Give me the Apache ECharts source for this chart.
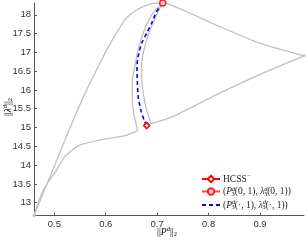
<!DOCTYPE html>
<html><head><meta charset="utf-8">
<script src="https://cdn.jsdelivr.net/npm/echarts@6/dist/echarts.min.js"></script>
<style>html,body{margin:0;padding:0;background:#fff}#c{width:306px;height:240px}</style>
</head><body><div id="c"></div>
<script>
// ---- data ----
const xTicks = [0.5, 0.6, 0.7, 0.8, 0.9];
const yTicks = [13, 13.5, 14, 14.5, 15, 15.5, 16, 16.5, 17, 17.5, 18];
const xRange = [0.4605, 0.9856];
const yRange = [12.656, 18.314];

const curveOuter = [[0.4605,12.656],[0.5369,15.203],[0.563,16.002],[0.5824,16.535],[0.6019,17.068],[0.6245,17.60],[0.6375,17.867],[0.6472,18.0],[0.6608,18.133],[0.6764,18.24],[0.6919,18.306],[0.7108,18.314]];
const curveTopRight = [[0.7108,18.314],[0.7211,18.293],[0.7567,18.088],[0.8216,17.688],[0.8994,17.246],[0.9856,16.908]];
const curveLowerRight = [[0.9856,16.908],[0.9058,16.447],[0.8216,15.914],[0.7347,15.318],[0.688,15.095]];
const curveInnerRight = [[0.688,15.095],[0.6861,15.184],[0.6797,15.451],[0.6731,15.896],[0.6701,16.268],[0.6696,16.641],[0.6744,17.068],[0.6841,17.52],[0.7007,18.053],[0.7108,18.314]];
const curveInnerLeft = [[0.7108,18.314],[0.6894,18.0],[0.6731,17.521],[0.6628,17.068],[0.6569,16.641],[0.6517,16.25],[0.6517,15.808],[0.6536,15.451],[0.6583,15.142],[0.6622,14.918]];
const curveLowerLeft = [[0.6622,14.918],[0.6375,14.785],[0.5889,14.67],[0.55,14.537],[0.5272,14.316],[0.5175,14.182],[0.5047,13.871],[0.4786,13.338],[0.4605,12.656]];
const endPoints = [[0.4605,12.656],[0.9856,16.908]];
const pDot = [[0.6797,15.051],[0.675,15.184],[0.6686,15.451],[0.6633,15.808],[0.6614,16.25],[0.6608,16.623],[0.6637,16.934],[0.67,17.246],[0.6797,17.513],[0.6894,17.779],[0.6991,18.088],[0.7108,18.314]];
const hcss = [[0.6797,15.051]];
const p01 = [[0.7108,18.314]];

const gray = '#c0c0c0';
const serif = '"Liberation Serif","DejaVu Serif",serif';
function grayCurve(d){
  return {type:'line', data:d, showSymbol:false, smooth:0.25, silent:true,
    lineStyle:{color:gray, width:1.3}, itemStyle:{color:gray}, z:1};
}
const rich = {
  r:{fontFamily:serif, fontSize:9.5, color:'#222', lineHeight:12},
  i:{fontFamily:serif, fontStyle:'italic', fontSize:9.5, color:'#222', lineHeight:12},
  sup:{fontFamily:serif, fontStyle:'italic', fontSize:6.5, color:'#222', verticalAlign:'top', lineHeight:8},
  sub:{fontFamily:serif, fontSize:6.5, color:'#222', verticalAlign:'bottom', lineHeight:8},
  subs:{fontFamily:serif, fontSize:6.5, color:'#222', verticalAlign:'bottom', lineHeight:8, padding:[0,0,0,-3.6]}
};
const legendText = {
  'HCSS': '{r|HCSS}{sup|−}',
  'p01': '{r|(}{i|P}{sup|d}{subs|3}{r|(0, 1), }{i|λ}{sup|d}{subs|3}{r|(0, 1))}',
  'pdot': '{r|(}{i|P}{sup|d}{subs|3}{r|(·, 1), }{i|λ}{sup|d}{subs|3}{r|(·, 1))}'
};
const xName = '{r|||}{i|P}{sup|d}{r|||}{sub|2}';
const yName = '{r|||}{i|λ}{sup|d}{r|||}{sub|2}';

const chart = echarts.init(document.getElementById('c'), null, {renderer:'canvas'});
chart.setOption({
  animation:false,
  grid:{left:34, right:2, top:3, bottom:24.4, outerBoundsMode:'none', containLabel:false},
  xAxis:{type:'value', min:xRange[0], max:xRange[1],
    axisLine:{lineStyle:{color:'#555', width:1}},
    axisTick:{inside:true, length:3, customValues:xTicks, lineStyle:{color:'#555'}},
    axisLabel:{customValues:xTicks, fontSize:9.5, color:'#333', margin:4, fontFamily:'"Liberation Sans",Arial,sans-serif'},
    splitLine:{show:false}},
  yAxis:{type:'value', min:yRange[0], max:yRange[1],
    axisLine:{show:true, lineStyle:{color:'#555', width:1}},
    axisTick:{show:true, inside:true, length:3, customValues:yTicks, lineStyle:{color:'#555'}},
    axisLabel:{customValues:yTicks, fontSize:9.5, color:'#333', margin:3, fontFamily:'"Liberation Sans",Arial,sans-serif'},
    splitLine:{show:false}},
  graphic:[
    {type:'text', x:167, y:232, style:{text:xName, rich:rich, align:'center', verticalAlign:'middle'}},
    {type:'text', x:8, y:107, rotation:Math.PI/2, style:{text:yName, rich:rich, align:'center', verticalAlign:'middle'}}
  ],
  legend:{data:['HCSS','p01',{name:'pdot', itemStyle:{opacity:0}}], orient:'vertical', left:201, top:173, padding:0,
    itemWidth:18, itemHeight:8, itemGap:1.5, align:'left',
    formatter:function(n){return legendText[n];},
    textStyle:{rich:rich, padding:[0,0,0,-2]}},
  series:[
    grayCurve(curveOuter), grayCurve(curveTopRight), grayCurve(curveLowerRight),
    grayCurve(curveInnerRight), grayCurve(curveInnerLeft), grayCurve(curveLowerLeft),
    {type:'scatter', data:endPoints, symbol:'circle', symbolSize:3.5, silent:true,
      itemStyle:{color:gray}, z:2},
    {name:'pdot', type:'line', data:pDot, symbol:'none', showSymbol:false, smooth:0.25, clip:false,
      lineStyle:{color:'#0000ff', width:1.6, type:[4,3]}, itemStyle:{color:'#0000ff'}, z:3},
    {name:'HCSS', type:'line', data:hcss, symbol:'diamond', symbolSize:6, clip:false,
      lineStyle:{color:'#ff0000', width:1.3}, itemStyle:{color:'#fff', borderColor:'#ff0000', borderWidth:1.5}, z:4},
    {name:'p01', type:'line', data:p01, symbol:'circle', symbolSize:6, clip:false,
      lineStyle:{color:'#ff4040', width:2}, itemStyle:{color:'#ffd0d0', borderColor:'#ff2020', borderWidth:1.5}, z:4}
  ]
});
</script></body></html>
